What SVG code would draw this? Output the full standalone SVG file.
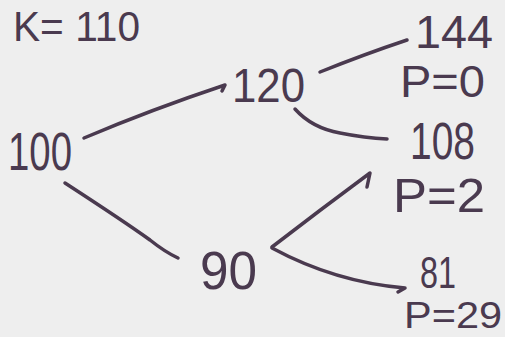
<svg xmlns="http://www.w3.org/2000/svg" width="505" height="337" viewBox="0 0 505 337">
<style>
text{font-family:"Liberation Sans","DejaVu Sans",sans-serif;fill:#4a3a4f;font-weight:normal}
.c path{fill:none;stroke:#4a3a4f;stroke-width:3.5;stroke-linecap:round;stroke-linejoin:round}
</style>
<rect width="505" height="337" fill="#eeeeee"/>
<g id="label-k"><text x="13" y="41" font-size="42" textLength="127" lengthAdjust="spacingAndGlyphs">K= 110</text></g>
<g class="c" id="connectors">
<path d="M84,138 Q150,110 225,85 L222,91"/>
<path d="M320,72 Q365,54 407,40"/>
<path d="M295,109 Q312,128 340,133 Q365,138 387,139"/>
<path d="M65,183 Q125,222 150,240 Q165,252 178,258"/>
<path d="M272,247 Q320,210 370,173 L367,187"/>
<path d="M272,248 Q335,282 405,288 L398,292"/>
</g>
<g id="n100"><text x="8" y="170" font-size="54" textLength="64" lengthAdjust="spacingAndGlyphs">100</text></g>
<g id="n120"><text x="232" y="102" font-size="48" textLength="73" lengthAdjust="spacingAndGlyphs">120</text></g>
<g id="n144"><text x="415" y="48" font-size="46" textLength="78" lengthAdjust="spacingAndGlyphs">144</text><text x="400" y="97" font-size="44" textLength="85" lengthAdjust="spacingAndGlyphs">P=0</text></g>
<g id="n108"><text x="410" y="159" font-size="52" textLength="65" lengthAdjust="spacingAndGlyphs">108</text><text x="393" y="212" font-size="48" textLength="92" lengthAdjust="spacingAndGlyphs">P=2</text></g>
<g id="n90"><text x="200" y="289" font-size="54" textLength="57" lengthAdjust="spacingAndGlyphs">90</text></g>
<g id="n81"><text x="420" y="288" font-size="44" textLength="36" lengthAdjust="spacingAndGlyphs">81</text><text x="404" y="328" font-size="36" textLength="98" lengthAdjust="spacingAndGlyphs">P=29</text></g>
</svg>
